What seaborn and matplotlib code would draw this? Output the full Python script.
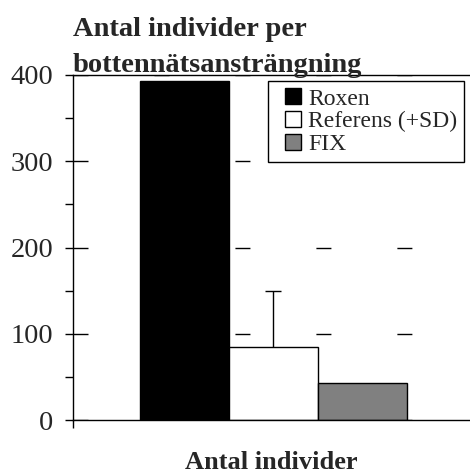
import matplotlib
matplotlib.use('Agg')
import matplotlib.pyplot as plt
from matplotlib.lines import Line2D
import seaborn as sb
import pandas as pd

# values
categories = ['Roxen', 'Referens (+SD)', 'FIX']
means = [393, 85, 43]
sd_upper = [0, 64, 0]
colors = ['black', 'white', '#808080']

sb.set_theme(style='white')
plt.rcParams['font.family'] = ['Liberation Serif', 'DejaVu Serif']

df = pd.DataFrame({'group': categories, 'value': means, 'sd': sd_upper})

fig = plt.figure(figsize=(4.7, 4.74), dpi=100)
ax = fig.add_axes([73 / 470, 54 / 474, 397 / 470, 345 / 474])

sb.barplot(data=df, x='group', y='value', hue='group', palette=colors,
           width=1.0, edgecolor='black', linewidth=1, saturation=1,
           legend=False, ax=ax, zorder=2)

# one-sided SD (upper only) for the reference bar
ref = df[df['sd'] > 0]
ax.vlines(ref.index, ref['value'], ref['value'] + ref['sd'], color='black', lw=1, zorder=3)
ax.hlines(ref['value'] + ref['sd'], ref.index - 0.09, ref.index + 0.09, color='black', lw=1, zorder=3)

ax.set_xlim(-1.25, 3.21)
ax.set_ylim(0, 400)
ax.set_yticks([0, 100, 200, 300, 400])
ax.set_yticks([50, 150, 250, 350], minor=True)
ax.set_xticks([-1.25])
ax.set_xticklabels([''])
ax.tick_params(axis='y', which='both', direction='out', length=6, width=1,
               color='black', labelsize=20.5, pad=8, left=True)
ax.tick_params(axis='x', direction='out', length=6, width=1, color='black', bottom=True)

# dashed grid: short dashes with long gaps
ax.set_axisbelow(True)
ax.yaxis.grid(True, color='black', linewidth=1, linestyle=(0, (10.8, 47.5)))

for s in ['left', 'bottom', 'top']:
    ax.spines[s].set_color('black')
    ax.spines[s].set_linewidth(1)
ax.spines['right'].set_visible(False)

ax.set_xlabel('Antal individer', fontsize=19, fontweight='bold')
ax.xaxis.set_label_coords(0.5, -0.09)
ax.set_ylabel('')
ax.set_title('Antal individer per\nbottennätsansträngning', loc='left',
             fontsize=20.5, fontweight='bold', pad=2, linespacing=1.6)

handles = [Line2D([], [], ls='none', marker='s', markersize=12, markerfacecolor=c,
                  markeredgecolor='black', markeredgewidth=1) for c in colors]
leg = ax.legend(handles, categories, loc='upper right', fontsize=17, frameon=True,
                fancybox=False, edgecolor='black', framealpha=1,
                handlelength=1.57, handletextpad=-0.17, labelspacing=0.05,
                borderpad=0.3, borderaxespad=0.25)
leg.get_frame().set_linewidth(1)

fig.savefig('out.png', dpi=100)
